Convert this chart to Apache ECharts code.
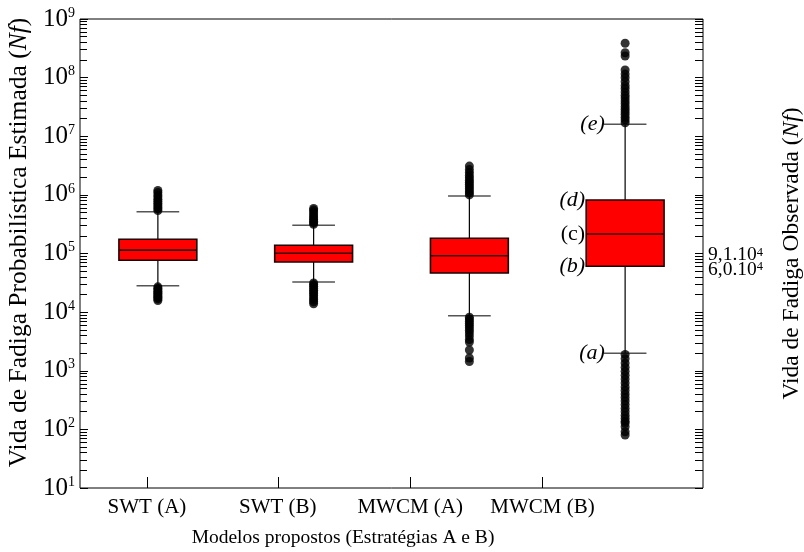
<!DOCTYPE html>
<html>
<head>
<meta charset="utf-8">
<script src="https://cdn.jsdelivr.net/npm/echarts@6/dist/echarts.min.js"></script>
<style>
html,body{margin:0;padding:0;background:#fff;}
#chart{width:804px;height:552px;}
</style>
</head>
<body>
<div id="chart"></div>
<script>
// ---- data ----
const categories = ['SWT (A)', 'SWT (B)', 'MWCM (A)', 'MWCM (B)'];
const whiskerLow  = [2.82e4, 3.27e4, 8.7e3, 1.99e3];
const q1          = [7.66e4, 7.16e4, 4.65e4, 6.05e4];
const median      = [1.14e5, 1.01e5, 9.18e4, 2.15e5];
const q3          = [1.75e5, 1.38e5, 1.82e5, 8.18e5];
const whiskerHigh = [5.17e5, 3.03e5, 9.57e5, 1.6e7];

const outliersSWTA = [5.4e5, 5.8e5, 6.2e5, 6.7e5, 7.2e5, 7.8e5, 8.4e5, 9.2e5, 1.0e6, 1.1e6, 1.19e6,
                      2.7e4, 2.55e4, 2.4e4, 2.28e4, 2.15e4, 2.05e4, 1.95e4, 1.85e4, 1.76e4, 1.68e4, 1.58e4];
const outliersSWTB = [3.15e5, 3.35e5, 3.55e5, 3.8e5, 4.05e5, 4.35e5, 4.7e5, 5.1e5, 5.5e5, 5.86e5,
                      3.15e4, 2.95e4, 2.75e4, 2.55e4, 2.35e4, 2.2e4, 2.05e4, 1.9e4, 1.75e4, 1.62e4, 1.5e4, 1.39e4];
const outliersMWCMA = [1.0e6, 1.08e6, 1.17e6, 1.27e6, 1.38e6, 1.5e6, 1.63e6, 1.78e6, 1.95e6, 2.15e6, 2.4e6, 2.7e6, 3.1e6,
                       8.2e3, 7.6e3, 7.0e3, 6.4e3, 5.9e3, 5.4e3, 4.9e3, 4.4e3, 3.9e3, 3.4e3, 3.1e3, 2.26e3, 1.65e3, 1.44e3];
const outliersMWCMB = [1.7e7, 1.9e7, 2.1e7, 2.35e7, 2.6e7, 2.9e7, 3.2e7, 3.6e7, 4.0e7, 4.5e7, 5.0e7, 5.7e7, 6.5e7, 7.3e7,
                       8.5e7, 1.0e8, 1.15e8, 1.35e8, 2.34e8, 2.66e8, 3.85e8,
                       1.9e3, 1.6e3, 1.35e3, 1.15e3, 980, 840, 720, 620, 530, 460, 400, 350, 305, 265, 230, 200,
                       175, 155, 138, 128, 111, 91, 80];
const outliers = [outliersSWTA, outliersSWTB, outliersMWCMA, outliersMWCMB];

const observedLife = [9.1e4, 6.0e4];
const annotatedCategory = 'MWCM (B)';
const annotationTexts = ['(a)', '(b)', '(c)', '(d)', '(e)'];

const yMin = 10, yMax = 1e9;

// ---- build ----
const FONT = '"Liberation Serif", "Times New Roman", serif';
const boxData = categories.map((c, i) => [i, whiskerLow[i], q1[i], median[i], q3[i], whiskerHigh[i]]);
const outlierData = [];
outliers.forEach((arr, i) => arr.forEach(v => outlierData.push([i, v])));
const annIdx = categories.indexOf(annotatedCategory);

const logMin = Math.log10(yMin), logMax = Math.log10(yMax);
const minorTicks = [], allTicks = [];
for (let n = logMin; n < logMax; n++) {
  for (let k = 1; k <= 9; k++) {
    const t = n + Math.log10(k);
    allTicks.push(t);
    if (k > 1) minorTicks.push(t);
  }
}
allTicks.push(logMax);

// x tick/label positions on the value axis (category index units)
const xTickPos = [-0.07, 0.77, 1.62, 2.47];
// small vertical nudges of the two close right-side labels (px)
const obsLabelPad = [[0, 0, 2, 0], [6, 0, 0, 0]];

function nearestIdx(arr, v) {
  let b = 0;
  arr.forEach((a, i) => { if (Math.abs(a - v) < Math.abs(arr[b] - v)) b = i; });
  return b;
}
function sciLabel(val) {
  const e = Math.floor(Math.log10(val));
  const m = (val / Math.pow(10, e)).toFixed(1).replace('.', ',');
  return '{b|' + m + '.10}{s|' + e + '}';
}

const supRich = {
  b: { fontFamily: FONT, fontSize: 25, color: '#000', lineHeight: 26 },
  s: { fontFamily: FONT, fontSize: 14, color: '#000', verticalAlign: 'top', lineHeight: 14, padding: [0, 0, 10, 0] }
};
const obsRich = {
  b: { fontFamily: FONT, fontSize: 19.5, color: '#000', lineHeight: 18 },
  s: { fontFamily: FONT, fontSize: 12.5, color: '#000', verticalAlign: 'top', lineHeight: 12, padding: [0, 0, 7, 0] }
};

const chart = echarts.init(document.getElementById('chart'), null, { renderer: 'canvas' });

// one right-side label axis per observed life value (they sit close together)
const observedAxes = observedLife.map((val, k) => ({
  type: 'value', min: logMin, max: logMax, position: 'right',
  axisLine: { show: false, onZero: false }, splitLine: { show: false },
  axisTick: { show: false },
  axisLabel: {
    show: true, customValues: [Math.log10(val)], margin: 5, hideOverlap: false,
    showMinLabel: true, showMaxLabel: true,
    padding: obsLabelPad[k],
    formatter: () => sciLabel(val),
    rich: obsRich
  }
}));

const option = {
  animation: false,
  backgroundColor: '#fff',
  grid: { left: 80, right: 101, top: 19, bottom: 64, show: true, borderColor: '#000', borderWidth: 1,
          backgroundColor: 'transparent', outerBoundsMode: 'none', containLabel: false },
  title: {
    text: 'Modelos propostos (Estratégias A e B)',
    left: 338, top: 523, textAlign: 'center',
    textStyle: { fontFamily: FONT, fontSize: 19.5, fontWeight: 'normal', color: '#000' }
  },
  xAxis: [
    { type: 'category', data: categories, boundaryGap: true, show: false, gridIndex: 0 },
    {
      type: 'value', min: -0.5, max: 3.5, position: 'bottom', gridIndex: 0,
      axisLine: { show: false, onZero: false },
      splitLine: { show: false },
      axisTick: { show: true, inside: true, length: 11, customValues: xTickPos, lineStyle: { color: '#000', width: 1 } },
      axisLabel: {
        show: true, customValues: xTickPos, margin: 9, hideOverlap: false,
        showMinLabel: true, showMaxLabel: true,
        fontFamily: FONT, fontSize: 21, color: '#000',
        formatter: v => categories[nearestIdx(xTickPos, v)]
      }
    }
  ],
  yAxis: [
    {
      type: 'log', logBase: 10, min: yMin, max: yMax, position: 'left',
      axisLine: { show: false, onZero: false },
      splitLine: { show: false },
      axisTick: { show: true, inside: true, length: 8, lineStyle: { color: '#000' } },
      axisLabel: {
        margin: 5, showMinLabel: true, showMaxLabel: true,
        formatter: v => '{b|10}{s|' + Math.round(Math.log10(v)) + '}',
        rich: supRich
      },
      name: 'Vida de Fadiga Probabilística Estimada ({i|Nf})',
      nameLocation: 'middle', nameGap: 46,
      nameTextStyle: {
        fontFamily: FONT, fontSize: 25.5, color: '#000', padding: [0, 0, 0, 22],
        rich: { i: { fontFamily: FONT, fontSize: 25.5, fontStyle: 'italic', color: '#000' } }
      }
    },
    {
      type: 'value', min: logMin, max: logMax, position: 'left',
      axisLine: { show: false, onZero: false }, splitLine: { show: false },
      axisTick: { show: true, inside: true, length: 7, customValues: minorTicks, lineStyle: { color: '#000' } },
      axisLabel: { show: false }
    },
    {
      type: 'value', min: logMin, max: logMax, position: 'right',
      axisLine: { show: false, onZero: false }, splitLine: { show: false },
      axisTick: { show: true, inside: true, length: 8, customValues: allTicks, lineStyle: { color: '#000' } },
      axisLabel: { show: false },
      name: 'Vida de Fadiga Observada ({i|Nf})',
      nameLocation: 'middle', nameGap: 77,
      nameTextStyle: {
        fontFamily: FONT, fontSize: 23.5, color: '#000',
        rich: { i: { fontFamily: FONT, fontSize: 23.5, fontStyle: 'italic', color: '#000' } }
      }
    }
  ].concat(observedAxes),
  series: [
    {
      type: 'custom',
      xAxisIndex: 0, yAxisIndex: 0,
      data: boxData,
      z: 2,
      renderItem: function (params, api) {
        const i = api.value(0);
        const pLo = api.coord([i, api.value(1)]);
        const pQ1 = api.coord([i, api.value(2)]);
        const pMed = api.coord([i, api.value(3)]);
        const pQ3 = api.coord([i, api.value(4)]);
        const pHi = api.coord([i, api.value(5)]);
        const band = api.size([1, 1], [i, 1000])[0];
        const bw = band * 0.5, cw = band * 0.274;
        const x = pMed[0];
        const lineBlack = { stroke: '#000', lineWidth: 1.2 };
        const capStyle = { stroke: '#555', lineWidth: 1.5 };
        const children = [
          { type: 'line', shape: { x1: x, y1: pLo[1], x2: x, y2: pQ1[1] }, style: lineBlack },
          { type: 'line', shape: { x1: x, y1: pQ3[1], x2: x, y2: pHi[1] }, style: lineBlack },
          { type: 'line', shape: { x1: x - cw / 2, y1: pLo[1], x2: x + cw / 2, y2: pLo[1] }, style: capStyle },
          { type: 'line', shape: { x1: x - cw / 2, y1: pHi[1], x2: x + cw / 2, y2: pHi[1] }, style: capStyle },
          { type: 'rect', shape: { x: x - bw / 2, y: pQ3[1], width: bw, height: pQ1[1] - pQ3[1] },
            style: { fill: '#ff0000', stroke: '#1a0000', lineWidth: 1.6 } },
          { type: 'line', shape: { x1: x - bw / 2, y1: pMed[1], x2: x + bw / 2, y2: pMed[1] },
            style: { stroke: '#3a0000', lineWidth: 1.6 } }
        ];
        if (i === annIdx) {
          const ys = [pLo[1], pQ1[1], pMed[1], pQ3[1], pHi[1]];
          annotationTexts.forEach((t, k) => {
            const onCap = (k === 0 || k === 4);
            const xr = onCap ? x - cw / 2 + 1 : x - bw / 2 - 1;
            const italic = t !== '(c)';
            children.push({
              type: 'text',
              style: {
                text: t, x: xr, y: ys[k], align: 'right', verticalAlign: 'middle',
                font: (italic ? 'italic ' : '') + '22px ' + FONT, fill: '#000'
              }
            });
          });
        }
        return { type: 'group', children: children };
      }
    },
    {
      type: 'scatter',
      xAxisIndex: 0, yAxisIndex: 0,
      data: outlierData,
      symbol: 'circle', symbolSize: 9,
      itemStyle: { color: '#000' },
      z: 3
    }
  ]
};
chart.setOption(option);
</script>
</body>
</html>
